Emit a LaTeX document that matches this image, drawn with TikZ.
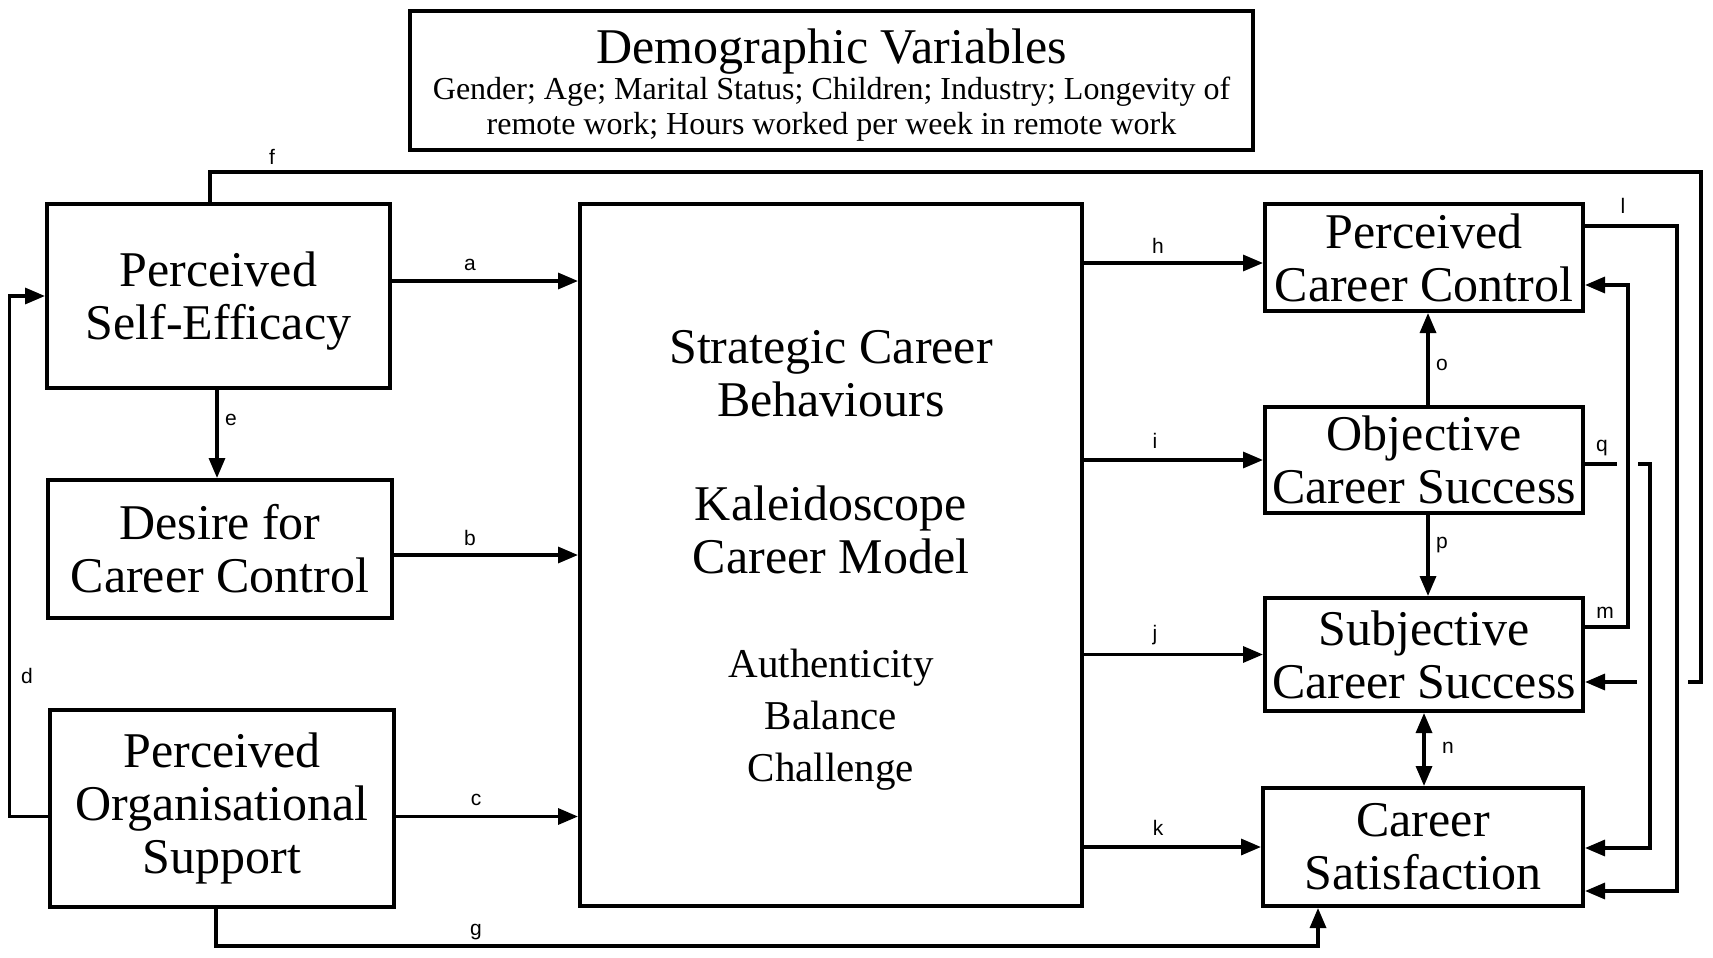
\documentclass[tikz,border=0pt]{standalone}
\usepackage{fontspec}
\setmainfont{Liberation Serif}
\newfontfamily\lblfont{Liberation Sans}
\usetikzlibrary{arrows.meta}
\tikzset{
 box/.style={draw, line width=4pt, inner sep=0pt, align=center, font=\fontsize{50}{53}\selectfont},
 txt/.style={inner sep=0pt, align=center},
 wire/.style={line width=3.3pt},
 conn/.style={wire, -{Triangle[length=20pt,width=16pt]}},
 dconn/.style={wire, {Triangle[length=20pt,width=16pt]}-{Triangle[length=20pt,width=16pt]}},
 lbl/.style={inner sep=0pt, font=\lblfont\fontsize{21}{24}\selectfont},
}
\begin{document}
\begin{tikzpicture}[x=1pt,y=-1pt]
\useasboundingbox (0,0) rectangle (1713,958);
\fill[white] (0,0) rectangle (1713,958);
% boxes
\node[box, minimum width=843pt, minimum height=139pt] (demo) at (831.5,80.5) {};
\node[txt, font=\fontsize{50}{53}\selectfont] (demoT) at (831.5,52) {Demographic Variables};
\node[txt, font=\fontsize{32}{35}\selectfont] (demoS) at (831.5,109) {Gender; Age; Marital Status; Children; Industry; Longevity of\\remote work; Hours worked per week in remote work};
\node[box, minimum width=343pt, minimum height=184pt] (pse) at (218.5,296) {};
\node[txt, font=\fontsize{50}{53}\selectfont] (pset) at (218.5,301) {Perceived\\Self-Efficacy};
\node[box, minimum width=344pt, minimum height=138pt] (dcc) at (220,549) {Desire for\\Career Control};
\node[box, minimum width=344pt, minimum height=197pt] (pos) at (222,808.5) {Perceived\\Organisational\\Support};
\node[box, minimum width=502pt, minimum height=702pt] (scb) at (831,555) {};
\node[txt, font=\fontsize{50}{53}\selectfont] (scb1) at (831,373.5) {Strategic Career\\Behaviours};
\node[txt, font=\fontsize{50}{53}\selectfont] (scb2) at (831,529.5) {Kaleidoscope\\Career Model};
\node[txt, font=\fontsize{41}{52}\selectfont] (scb3) at (831,720) {Authenticity\\Balance\\Challenge};
\node[box, minimum width=318pt, minimum height=107pt] (pcc) at (1424,257.5) {Perceived\\Career Control};
\node[box, minimum width=318pt, minimum height=106pt] (ocs) at (1424,460) {Objective\\Career Success};
\node[box, minimum width=318pt, minimum height=113pt] (scs) at (1424,654.5) {Subjective\\Career Success};
\node[box, minimum width=320pt, minimum height=118pt] (cs) at (1423,847) {Career\\Satisfaction};
% helper coordinates
\coordinate (fA) at (1701,172);
\coordinate (fB) at (1688,682);
\coordinate (fC) at (1637,682);
\coordinate (gA) at (1318,946);
\coordinate (lA) at (1677,891);
\coordinate (mA) at (1628,285);
\coordinate (qA) at (1617,464);
\coordinate (qB) at (1638,464);
\coordinate (qC) at (1650,848);
% connectors
\draw[conn] ([yshift=15pt]pse.east) -- ([yshift=15pt]pse.east -| scb.west);
\draw[conn] ([yshift=-6pt]dcc.east) -- ([yshift=-6pt]dcc.east -| scb.west);
\draw[conn] ([yshift=-8pt]pos.east) -- ([yshift=-8pt]pos.east -| scb.west);
\draw[conn] ([yshift=-8pt]pos.west) -- ++(-38.5,0) |- (pse.west);
\draw[conn] ([xshift=-1.5pt]pse.south) -- ([xshift=-1.5pt]pse.south |- dcc.north);
\draw[wire] ([xshift=-8.5pt]pse.north) |- (fA) |- (fB);
\draw[conn] (fC) -- (fC -| scs.east);
\draw[conn] ([xshift=-6pt]pos.south) |- (gA) -- (gA |- cs.south);
\draw[conn] ([yshift=-5.5pt]pcc.west -| scb.east) -- ([yshift=-5.5pt]pcc.west);
\draw[conn] (ocs.west -| scb.east) -- (ocs.west);
\draw[conn] (scs.west -| scb.east) -- (scs.west);
\draw[conn] (cs.west -| scb.east) -- (cs.west);
\draw[conn] ([yshift=31.5pt]pcc.east) -| (lA) -- (lA -| cs.east);
\draw[conn] ([yshift=27.5pt]scs.east) -| (mA) -- (mA -| pcc.east);
\draw[dconn] (scs.south) -- (scs.south |- cs.north);
\draw[conn] ([xshift=4pt]ocs.north) -- ([xshift=4pt]ocs.north |- pcc.south);
\draw[conn] ([xshift=4pt]ocs.south) -- ([xshift=4pt]ocs.south |- scs.north);
\draw[wire] (ocs.east |- qA) -- (qA);
\draw[conn] (qB) -| (qC) -- (qC -| cs.east);
% labels
\node[lbl] (la) at (470,265) {a};
\node[lbl] (lb) at (470,538) {b};
\node[lbl] (lc) at (476,800) {c};
\node[lbl] (ld) at (27,676) {d};
\node[lbl] (le) at (231,420) {e};
\node[lbl] (lf) at (272,157) {f};
\node[lbl] (lg) at (476,932) {g};
\node[lbl] (lh) at (1158,246) {h};
\node[lbl] (li) at (1155,441) {i};
\node[lbl] (lj) at (1155,635) {j};
\node[lbl] (lk) at (1158,828) {k};
\node[lbl] (ll) at (1623,206) {l};
\node[lbl] (lm) at (1605,613) {m};
\node[lbl] (ln) at (1448,748) {n};
\node[lbl] (lo) at (1442,365) {o};
\node[lbl] (lp) at (1442,545) {p};
\node[lbl] (lq) at (1602,448) {q};
\end{tikzpicture}
\end{document}
